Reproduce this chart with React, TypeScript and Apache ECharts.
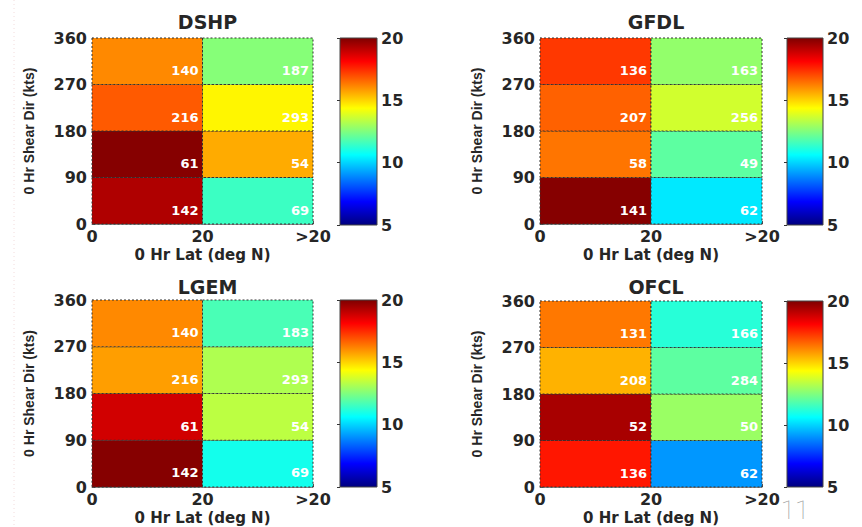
import React, { useEffect, useRef } from "react";
import * as echarts from "echarts";

// ---- data ----
const models = ["DSHP", "GFDL", "LGEM", "OFCL"];
const latTickLabels = ["0", "20", ">20"];
const dirTicks = [0, 90, 180, 270, 360];
const colorbarTicks = [5, 10, 15, 20];

// rows listed bottom (0-90) to top (270-360); column 0 = 0-20N, column 1 = >20N
const dshpLowLat = [19.3, 19.9, 16.8, 16.1];
const dshpHighLat = [11.5, 15.6, 14.5, 12.6];
const dshpLowLatCounts = [142, 61, 216, 140];
const dshpHighLatCounts = [69, 54, 293, 187];

const gfdlLowLat = [19.9, 16.4, 16.7, 17.3];
const gfdlHighLat = [10.3, 12.0, 13.7, 12.8];
const gfdlLowLatCounts = [141, 58, 207, 136];
const gfdlHighLatCounts = [62, 49, 256, 163];

const lgemLowLat = [19.9, 18.8, 15.8, 16.1];
const lgemHighLat = [10.9, 13.4, 13.2, 11.7];
const lgemLowLatCounts = [142, 61, 216, 140];
const lgemHighLatCounts = [69, 54, 293, 183];

const ofclLowLat = [17.8, 19.4, 15.5, 16.35];
const ofclHighLat = [9.1, 12.9, 12.0, 11.2];
const ofclLowLatCounts = [136, 52, 208, 131];
const ofclHighLatCounts = [62, 50, 284, 166];

const jet = ["#00007F", "#0000FF", "#007FFF", "#00FFFF", "#7FFF7F", "#FFFF00", "#FF7F00", "#FF0000", "#7F0000"];

const panelValues = [
  [dshpLowLat, dshpHighLat, dshpLowLatCounts, dshpHighLatCounts],
  [gfdlLowLat, gfdlHighLat, gfdlLowLatCounts, gfdlHighLatCounts],
  [lgemLowLat, lgemHighLat, lgemLowLatCounts, lgemHighLatCounts],
  [ofclLowLat, ofclHighLat, ofclLowLatCounts, ofclHighLatCounts],
];

const WIDE = "'DejaVu Sans', Verdana, sans-serif";
const ARIAL = "'Liberation Sans', Arial, Helvetica, sans-serif";

export default function App() {
  const ref = useRef<HTMLDivElement>(null);
  useEffect(() => {
    if (!ref.current) return;
    const chart = echarts.init(ref.current, undefined, { renderer: "svg" });

    const plotGrids = [
      { left: 92, top: 38, width: 221, height: 186 },
      { left: 540, top: 38, width: 222, height: 186 },
      { left: 92, top: 300, width: 221, height: 187 },
      { left: 540, top: 301, width: 222, height: 186 },
    ];
    const cbGrids = [
      { left: 340, top: 38, width: 37, height: 187 },
      { left: 787, top: 38, width: 36, height: 187 },
      { left: 340, top: 300, width: 37, height: 187 },
      { left: 787, top: 301, width: 36, height: 186 },
    ];

    const grids: any[] = [];
    const xAxes: any[] = [];
    const yAxes: any[] = [];
    const series: any[] = [];
    const titles: any[] = [];

    const tickStyle = { color: "#262626", fontWeight: "bold", fontSize: 16, fontFamily: WIDE };

    plotGrids.forEach((g, i) => {
      grids.push({ ...g, containLabel: false });
      xAxes.push({
        gridIndex: i,
        type: "value",
        min: 0,
        max: 2,
        interval: 1,
        position: "bottom",
        axisLine: { show: true, onZero: false, lineStyle: { color: "#888", width: 1 } },
        axisTick: { show: true, inside: true, length: 3, lineStyle: { color: "#555" } },
        splitLine: { show: false },
        axisLabel: { ...tickStyle, margin: 4, formatter: (v: number) => latTickLabels[v] ?? "" },
        name: "0 Hr Lat (deg N)",
        nameLocation: "middle",
        nameGap: 23,
        nameTextStyle: { color: "#262626", fontWeight: "bold", fontSize: 15, fontFamily: WIDE },
      });
      yAxes.push({
        gridIndex: i,
        type: "value",
        min: dirTicks[0],
        max: dirTicks[dirTicks.length - 1],
        interval: 90,
        axisLine: { show: true, lineStyle: { color: "#888", width: 1 } },
        axisTick: { show: true, inside: true, length: 3, lineStyle: { color: "#555" } },
        splitLine: { show: false },
        axisLabel: { ...tickStyle, margin: 5 },
        name: "0 Hr Shear Dir (kts)",
        nameLocation: "middle",
        nameGap: 56,
        nameTextStyle: { color: "#262626", fontWeight: "bold", fontSize: 14, fontFamily: ARIAL },
      });
      const [lowV, highV, lowC, highC] = panelValues[i];
      const data: any[] = [];
      for (let r = 0; r < 4; r++) {
        data.push([0, r, lowV[r], lowC[r]]);
        data.push([1, r, highV[r], highC[r]]);
      }
      series.push({
        type: "custom",
        xAxisIndex: i,
        yAxisIndex: i,
        data,
        encode: { x: 0, y: 1 },
        renderItem: (params: any, api: any) => {
          const xi = api.value(0);
          const yi = api.value(1);
          const p0 = api.coord([xi, yi * 90]);
          const p1 = api.coord([xi + 1, (yi + 1) * 90]);
          const x = p0[0];
          const y = p1[1];
          const w = p1[0] - p0[0];
          const h = p0[1] - p1[1];
          return {
            type: "group",
            children: [
              {
                type: "rect",
                shape: { x, y, width: w, height: h },
                style: { fill: api.visual("color"), stroke: "#333", lineWidth: 1, lineDash: [2, 2] },
              },
              {
                type: "text",
                x: x + w - 4,
                y: y + h * 0.7,
                style: {
                  text: String(api.value(3)),
                  fill: "#fff",
                  font: `bold 13px ${WIDE}`,
                  align: "right",
                  verticalAlign: "middle",
                },
              },
            ],
          };
        },
      });
      titles.push({
        text: models[i],
        left: g.left + g.width / 2,
        top: i < 2 ? 7 : 272,
        textAlign: "center",
        textStyle: { color: "#262626", fontWeight: "bold", fontSize: 19, fontFamily: WIDE },
      });
    });

    cbGrids.forEach((g, j) => {
      const gi = 4 + j;
      grids.push({ ...g, containLabel: false });
      xAxes.push({ gridIndex: gi, type: "value", min: 0, max: 1, show: false });
      yAxes.push({
        gridIndex: gi,
        type: "value",
        position: "right",
        min: colorbarTicks[0],
        max: colorbarTicks[colorbarTicks.length - 1],
        interval: 5,
        axisLine: { show: false },
        axisTick: { show: true, inside: true, length: 3, lineStyle: { color: "#333" } },
        splitLine: { show: false },
        axisLabel: {
          ...tickStyle,
          margin: 4,
          formatter: (v: number) => (colorbarTicks.includes(v) ? String(v) : ""),
        },
      });
      series.push({
        type: "custom",
        xAxisIndex: gi,
        yAxisIndex: gi,
        data: [[0, colorbarTicks[0]]],
        renderItem: (params: any, api: any) => {
          const p0 = api.coord([0, colorbarTicks[0]]);
          const p1 = api.coord([1, colorbarTicks[colorbarTicks.length - 1]]);
          return {
            type: "rect",
            shape: { x: p0[0], y: p1[1], width: p1[0] - p0[0], height: p0[1] - p1[1] },
            style: {
              fill: new echarts.graphic.LinearGradient(
                0, 1, 0, 0,
                jet.map((c, k) => ({ offset: k / (jet.length - 1), color: c }))
              ),
              stroke: "#444",
              lineWidth: 1,
            },
          };
        },
        silent: true,
        z: 1,
      });
    });

    chart.setOption({
      animation: false,
      backgroundColor: "#fff",
      title: titles,
      grid: grids,
      xAxis: xAxes,
      yAxis: yAxes,
      visualMap: {
        type: "continuous",
        show: false,
        min: 5,
        max: 20,
        dimension: 2,
        seriesIndex: [0, 1, 2, 3],
        inRange: { color: jet },
      },
      graphic: [
        {
          type: "line",
          shape: { x1: 14, y1: 0, x2: 14, y2: 527 },
          style: { stroke: "#f2dcdc", lineWidth: 1, lineDash: [1, 3] },
          silent: true,
        },
        {
          type: "text",
          x: 795,
          y: 510,
          style: {
            text: "11",
            fill: "#9a9a9a",
            font: `100 26px Roboto, 'DejaVu Sans', sans-serif`,
            align: "center",
            verticalAlign: "middle",
          },
        },
      ],
      series,
    });

    return () => chart.dispose();
  }, []);

  return (
    <div
      ref={ref}
      style={{ position: "fixed", left: 0, top: 0, width: 862, height: 527, background: "#fff" }}
    />
  );
}
